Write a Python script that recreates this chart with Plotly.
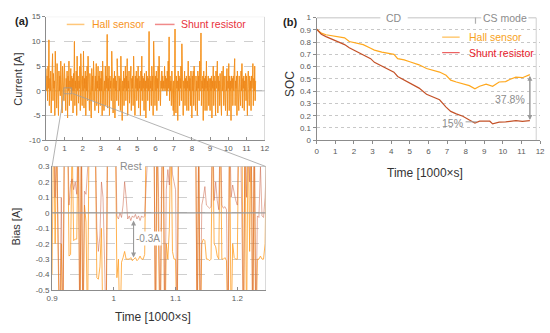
import plotly.graph_objects as go

W, H = 550, 333
def px(v): return v / W
def py(v): return 1 - v / H

FONT = "Arial, Liberation Sans, sans-serif"
TICK_COL = "#595959"
AX_COL = "#8c8c8c"
GRID_COL = "#cfcfcf"

# ---------------- data ----------------
# (a) top: current trace, one sample per 0.025 ks
current = [
    4.5, 0, 3, -2, 5, 0.5, 10.3, -3, 2.5, 0, 4, -4.5, 3, 0, 7.5, -2, 3.5, 0.5, 2, -5,
    8, 0, 3, -3.5, 5.5, 0.5, 2, -5, 4, 0, 3, -1, 6, 0, 2.5, -4.5, 5, 0.5, 3, -2,
    5.5, 0, 3, -4, 2.5, 0.5, 4, -5.5, 3, 0, 6, -3, 2, 0.5, 4.5, -2, 3, 0, 2.5, -4.5,
    3.5, 0, 10, -3, 2, 0.5, 4, -5, 7, 0, 3, -2.5, 2, 0.5, 5, -4, 7.5, 0, 3, -3,
    3, 0, 8, -3.5, 2.5, 0.5, 4, -5, 3, 0, 5, -2, 7, 0.5, 2.5, -4, 3.5, 0, 2, -5.5,
    4.5, 0, 3, -2, 6, 0.5, 2.5, -4, 3, 0, 5.5, -3, 2, 0.5, 5, -4.5, 3, 0, 4, -3,
    2.5, 0, 4, -5, 6, 0.5, 3, -4, 2, 0, 5, -3, 3, 0.5, 11.4, -3.5, 2.5, 0, 5, -5,
    3, 0.5, 2, -2, 8, 0, 3, -4.5, 2.5, 0.5, 4, -5.5, 3, 0, 2, -2, 6.5, 0.5, 3, -3,
    3, 0, 2.5, -4, 7, 0.5, 3, -6, 2, 0, 4, -3, 2.5, 0.5, 5, -2, 3, 0, 6.5, -5,
    2, 0.5, 4, -2.5, 3, 0, 5, -4, 2.5, 0.5, 3, -3, 7, 0, 2, -5, 3, 0.5, 4, -2,
    2.5, 0, 5, -3.5, 3, 0.5, 2, -5, 4, 0, 7, -2, 3, 0.5, 2.5, -4, 3.5, 0, 2, -5.5,
    4, 0.5, 3, -2, 2.5, 0, 12, -4, 3, 0.5, 2, -3, 5, 0, 3, -5, 10, 0.5, 2.5, -3,
    3, 0, 4, -4, 2.5, 0.5, 5, -2, 7, 0, 3, -3, 2, 0.5, 4, 0, 3, 0.5, 2, 0,
    5, 0.5, 3, 0, 2.5, -1, 4, 0, 6, 0.5, 10.9, -2, 3, 0, 2, -3, 4, 0.5, 2.5, -4,
    2, -5, 3, 12.5, 0, -4.5, 3, 0.5, 2, -6, 4, 0, 3, -3, 2.5, 0.5, 5, -2, 9.5, 0,
    3, -5, 2, 0.5, 4, -3, 2.5, 0, 3, -4, 2, 0.5, 6, -4, 3, 0, 2.5, -3, 4, 0,
    -5.5, 3, 0, 4, -3, 5, 0.5, 2.5, -4, 3, 0, 2, -5, 4, 0.5, 3, -2, 6, 0, 2.5,
    11.7, -3, 2, 0.5, 3, -6, 4, 0, 2.5, -4, 3, 0.5, 6, -4, 2, 0, 3, -3, 2.5, 0.5,
    -4, 2.5, 0, 3, -5.5, 2, 0.5, 5, -3, 3, 0, 2, -5, 4, 0.5, 2.5, 6, -4.5, 3, 0,
    2, -3, 3.5, 0.5, 2, -5, 4, 0, 2.5, 5, -3, 3, 0.5, 2, -4, 3, 0, 4.5, -5, 2,
    0.5, 5.5, -4, 3, 0, 2, -6, 3, 0.5, 2.5, -3, 3, 0, 4, 6.5, -3, 2, 0.5, 3, -5,
    4, 0, 2.5, -4, 3, 0.5, 2, -3, 4, 0, 5.5, -3.5, 2.5, 0.5, 3, -4, 2, 0, 3.5, -2,
    3, 0, -5, 2.5, 4, 0.5, -3, 3, 0, 2, -4, 3, 0.5, 2, 5.5, -3, 2.5, 0, 5, -2,
    2,
]
current_time = [round(i * 0.025, 4) for i in range(len(current))]

# (a) bottom: zoomed window 0.9-1.25 ks, one sample per 0.0025 ks
zoom_shunt = [
    0.5, 0.6, 0.1, 0.5, -0.2, -0.8, 0.1, -0.8, 0.5, 0.5,
    0.6, 0.05, 0.18, 0.22, 0.15, 0.2, 0.12, 0.6, -0.8, 0.5,
    -0.8, 0.14, 0.12, 0.6, 0.6, 0.6, 0.6, 0.6, 0.5, -0.1,
    -0.25, -0.15, 0.2, 0.1, -0.3, -0.8, 0.6, 0.6, 0.6, 0.6,
    0.6, 0.6, -0.02, -0.04, 0.0, -0.03, 0.05, 0.2, 0.1, -0.04,
    -0.02, -0.05, -0.02, -0.03, -0.01, -0.04, -0.02, -0.05, -0.02, -0.03,
    -0.02, 0.6, 0.6, 0.6, 0.6, 0.6, 0.6, -0.8, 0.6, 0.1,
    -0.8, 0.28, 0.6, -0.8, 0.15, 0.28, 0.18, 0.6, 0.25, 0.2,
    0.15, -0.8, 0.6, 0.6, 0.6, 0.6, 0.6, 0.6, 0.6, 0.6,
    0.6, 0.6, 0.6, 0.6, -0.8, 0.5, -0.8, 0.05, 0.1, 0.17,
    0.05, 0.04, 0.03, 0.04, 0.6, 0.08, 0.2, 0.08, 0.02, 0.6,
    0.05, 0.03, 0.04, 0.02, -0.8, 0.6, 0.1, 0.18, 0.12, 0.08,
    0.05, 0.6, 0.6, -0.2, -0.8, 0.6, 0.1, 0.6, 0.2, 0.6,
    -0.8, 0.6, -0.8, -0.02, -0.03, 0.3, -0.02, -0.03, 0.1, 0.5,
    0.6,
]
zoom_hall = [
    -0.4, 0.6, -0.2, 0.5, -0.3, -0.9, -0.2, -0.9, 0.6, 0.5,
    0.6, -0.28, -0.27, 0.5, -0.18, -0.17, -0.17, 0.6, -0.9, 0.5,
    -0.9, 0.05, -0.06, -0.8, 0.6, 0.6, 0.6, 0.6, 0.5, -0.42,
    -0.43, -0.35, -0.1, -0.8, -0.6, -0.9, 0.6, 0.6, 0.6, 0.6,
    0.6, 0.6, -0.42, -0.3, -0.8, -0.32, -0.29, -0.25, -0.3, -0.3,
    -0.3, -0.29, -0.31, -0.3, -0.29, -0.31, -0.3, -0.28, -0.3, -0.3,
    -0.27, 0.6, 0.6, 0.6, 0.6, 0.6, 0.6, -0.9, 0.6, -0.2,
    -0.9, 0.1, 0.6, -0.9, -0.2, -0.3, -0.1, 0.6, -0.25, -0.3,
    -0.3, -0.9, 0.6, 0.6, 0.6, 0.6, 0.6, 0.6, 0.6, 0.6,
    0.6, 0.6, 0.6, 0.6, -0.9, 0.5, -0.9, -0.2, -0.17, -0.18,
    -0.3, -0.3, -0.31, -0.3, 0.6, -0.2, -0.22, -0.28, -0.3, 0.6,
    -0.3, -0.3, -0.29, -0.31, -0.9, 0.6, -0.8, -0.2, -0.29, -0.3,
    -0.3, 0.6, 0.6, 0.6, -0.9, 0.6, -0.8, 0.6, -0.25, 0.6,
    -0.9, 0.6, -0.9, -0.3, -0.3, -0.28, -0.3, -0.3, -0.2, 0.5,
    0.6,
]
zoom_time = [round(0.9 + i * 0.0025, 4) for i in range(len(zoom_shunt))]

# (b) SOC
soc_time = [0, 0.25, 0.5, 1.0, 1.5, 1.75, 2.0, 2.5, 2.9, 3.1, 3.5, 3.8, 4.15, 4.35, 4.7,
            5.0, 5.5, 5.9, 6.25, 6.6, 6.95, 7.2, 7.5, 7.85, 8.2, 8.5, 8.75, 9.1, 9.3, 9.45,
            9.8, 10.15, 10.4, 10.7, 11.05, 11.45]
soc_hall = [0.905, 0.873, 0.86, 0.845, 0.835, 0.805, 0.795, 0.78, 0.75, 0.735, 0.718, 0.71,
            0.70, 0.665, 0.655, 0.64, 0.615, 0.585, 0.57, 0.556, 0.53, 0.49, 0.475, 0.46,
            0.445, 0.42, 0.44, 0.458, 0.45, 0.44, 0.475, 0.478, 0.497, 0.515, 0.51, 0.535]
soc_shunt = [0.905, 0.865, 0.845, 0.81, 0.78, 0.755, 0.735, 0.70, 0.665, 0.635, 0.605, 0.58,
             0.555, 0.52, 0.49, 0.465, 0.425, 0.375, 0.355, 0.33, 0.27, 0.235, 0.215, 0.195,
             0.165, 0.14, 0.155, 0.155, 0.155, 0.133, 0.147, 0.15, 0.155, 0.16, 0.153, 0.16]

cur_ticks = [-10, -5, 0, 5, 10, 15]
bias_ticks = [-0.5, -0.4, -0.3, -0.2, -0.1, 0, 0.1, 0.2, 0.3]
bias_xticks = [0.9, 1.0, 1.1, 1.2]
soc_ticks = [0, 0.1, 0.2, 0.3, 0.4, 0.5, 0.6, 0.7, 0.8, 0.9, 1.0]
time_ticks = list(range(0, 13))

def fmt(v):
    return "%g" % v

HALL_A = "rgb(255,172,55)"
SHUNT_A = "rgba(225,110,10,0.55)"
HALL_B = "rgb(255,168,30)"
SHUNT_B = "rgb(196,82,40)"

fig = go.Figure()
fig.add_trace(go.Scatter(x=current_time, y=current, mode="lines", line=dict(color=HALL_A, width=1),
                         xaxis="x", yaxis="y", showlegend=False, hoverinfo="skip"))
fig.add_trace(go.Scatter(x=current_time, y=current, mode="lines", line=dict(color=SHUNT_A, width=0.5),
                         xaxis="x", yaxis="y", showlegend=False, hoverinfo="skip"))
fig.add_trace(go.Scatter(x=zoom_time, y=zoom_hall, mode="lines", line=dict(color="rgba(255,160,40,0.9)", width=0.9),
                         xaxis="x2", yaxis="y2", showlegend=False, hoverinfo="skip"))
fig.add_trace(go.Scatter(x=zoom_time, y=zoom_shunt, mode="lines", line=dict(color="rgba(200,90,60,0.55)", width=0.9),
                         xaxis="x2", yaxis="y2", showlegend=False, hoverinfo="skip"))
fig.add_trace(go.Scatter(x=soc_time, y=soc_hall, mode="lines", line=dict(color=HALL_B, width=1.2),
                         xaxis="x3", yaxis="y3", showlegend=False, hoverinfo="skip"))
fig.add_trace(go.Scatter(x=soc_time, y=soc_shunt, mode="lines", line=dict(color=SHUNT_B, width=1.2),
                         xaxis="x3", yaxis="y3", showlegend=False, hoverinfo="skip"))

tickfont = dict(family=FONT, size=8, color=TICK_COL)
common = dict(showline=True, linecolor=AX_COL, linewidth=1, tickfont=tickfont, tickcolor=AX_COL,
              ticklen=3, zeroline=False)

fig.update_layout(
    width=W, height=H, margin=dict(l=0, r=0, t=0, b=0),
    paper_bgcolor="white", plot_bgcolor="white", showlegend=False,
    font=dict(family=FONT),
    xaxis=dict(domain=[px(41), px(264)], range=[0, 12], tickvals=time_ticks,
               ticktext=[str(v) for v in time_ticks], ticks="inside", showgrid=False,
               anchor="y", **common),
    yaxis=dict(domain=[py(140), py(13)], range=[-10, 15], tickvals=cur_ticks,
               ticktext=[str(v) for v in cur_ticks], ticks="outside", showgrid=True,
               gridcolor=GRID_COL, griddash="dash", gridwidth=0.8, anchor="x", **common),
    xaxis2=dict(domain=[px(47), px(265)], range=[0.9, 1.246], tickvals=bias_xticks,
                ticktext=["0.9", "1", "1.1", "1.2"], ticks="inside", showgrid=False,
                anchor="y2", **common),
    yaxis2=dict(domain=[py(294), py(167)], range=[-0.5, 0.3], tickvals=bias_ticks,
                ticktext=[fmt(v) for v in bias_ticks], ticks="", showgrid=True,
                gridcolor=GRID_COL, griddash="dash", gridwidth=0.8, anchor="x2", **common),
    xaxis3=dict(domain=[px(317), px(545)], range=[0, 12], tickvals=time_ticks,
                ticktext=[str(v) for v in time_ticks], ticks="outside", showgrid=False,
                anchor="y3", **common),
    yaxis3=dict(domain=[py(140), py(14)], range=[0, 1], tickvals=soc_ticks,
                ticktext=[fmt(v) for v in soc_ticks], ticks="outside", showgrid=True,
                gridcolor="#c8c8c8", griddash="dot", gridwidth=0.8, anchor="x3", **common),
)

shapes = []
light = "#bdbdbd"
shapes.append(dict(type="line", xref="x", yref="y", x0=12, x1=12, y0=-10, y1=15, line=dict(color=light, width=1)))
shapes.append(dict(type="line", xref="x", yref="y", x0=0, x1=12, y0=15, y1=15, line=dict(color="#e0e0e0", width=1)))
shapes.append(dict(type="line", xref="x", yref="y", x0=0, x1=12, y0=0, y1=0, line=dict(color="#a0a0a0", width=1), layer="below"))
shapes.append(dict(type="line", xref="x2", yref="y2", x0=1.246, x1=1.246, y0=-0.5, y1=0.3, line=dict(color=light, width=1)))
shapes.append(dict(type="line", xref="x2", yref="y2", x0=0.9, x1=1.246, y0=0, y1=0, line=dict(color="#9a9a9a", width=1.2)))
shapes.append(dict(type="line", xref="x2", yref="y2", x0=0.9, x1=1.005, y0=0.3, y1=0.3, line=dict(color="#a0a0a0", width=1.2)))
shapes.append(dict(type="line", xref="x2", yref="y2", x0=1.051, x1=1.246, y0=0.3, y1=0.3, line=dict(color="#a0a0a0", width=1.2)))
shapes.append(dict(type="rect", xref="x", yref="y", x0=0.97, x1=1.40, y0=-0.6, y1=0.6, line=dict(color="#9a9a9a", width=0.8)))
shapes.append(dict(type="line", xref="paper", yref="paper", x0=px(59), y0=py(93), x1=px(47), y1=py(167), line=dict(color="#a0a0a0", width=0.8)))
shapes.append(dict(type="line", xref="paper", yref="paper", x0=px(68), y0=py(92), x1=px(265), y1=py(167), line=dict(color="#a0a0a0", width=0.8)))
for a, b in [(0, 3.42), (4.89, 8.84), (11.37, 11.79)]:
    shapes.append(dict(type="line", xref="x3", yref="y3", x0=a, x1=b, y0=1, y1=1, line=dict(color="#b0b0b0", width=1.5)))
shapes.append(dict(type="line", xref="x3", yref="y3", x0=8.53, x1=8.53, y0=0.95, y1=1.06, line=dict(color="#b0b0b0", width=1.2)))
shapes.append(dict(type="line", xref="x3", yref="y3", x0=11.79, x1=11.79, y0=0, y1=1, line=dict(color="#d0d0d0", width=1)))
shapes.append(dict(type="line", xref="x3", yref="y3", x0=8.0, x1=8.6, y0=0.15, y1=0.15, line=dict(color="#a0a0a0", width=1)))
shapes.append(dict(type="line", xref="paper", yref="paper", x0=px(62), x1=px(80), y0=py(21), y1=py(21), line=dict(color="#FFC77A", width=1.5)))
shapes.append(dict(type="line", xref="paper", yref="paper", x0=px(152), x1=px(172), y0=py(21), y1=py(21), line=dict(color="#F08A8A", width=1.5)))
shapes.append(dict(type="line", xref="x3", yref="y3", x0=6.74, x1=7.68, y0=0.841, y1=0.841, line=dict(color="#FFB030", width=1)))
shapes.append(dict(type="line", xref="x3", yref="y3", x0=6.74, x1=7.68, y0=0.714, y1=0.714, line=dict(color="#E84040", width=1)))
fig.update_layout(shapes=shapes)

ann = []
def text(x, y, s, size, color, xref="paper", yref="paper", xanchor="center", angle=0, bold=False, bg=None):
    d = dict(x=x, y=y, xref=xref, yref=yref, text=("<b>%s</b>" % s if bold else s), showarrow=False,
             font=dict(family=FONT, size=size, color=color), xanchor=xanchor, yanchor="middle", textangle=angle)
    if bg:
        d["bgcolor"] = bg
    ann.append(d)

text(px(16), py(17), "(a)", 11, "#222", bold=True)
text(px(290), py(18), "(b)", 11, "#222", bold=True)
text(px(12), py(77), "Current [A]", 11, "#333", angle=-90)
text(px(10), py(229), "Bias [A]", 11, "#333", angle=-90)
text(px(150), py(322), "Time [1000×s]", 12, "#333")
text(px(290), py(82), "SOC", 12, "#333", angle=-90)
text(px(428), py(174), "Time [1000×s]", 12, "#333")
text(px(86), py(21), "Hall sensor", 10.5, "#F7941D", xanchor="left")
text(px(177), py(21), "Shunt resistor", 10.5, "#E8323C", xanchor="left")
text(8.05, 0.841, "Hall sensor", 10.5, "#F7A21B", xref="x3", yref="y3", xanchor="left")
text(8.05, 0.714, "Shunt resistor", 10.5, "#E8202A", xref="x3", yref="y3", xanchor="left")
text(4.15, 1.0, "CD", 10.5, "#8c8c8c", xref="x3", yref="y3")
text(10.1, 1.0, "CS mode", 10.5, "#8c8c8c", xref="x3", yref="y3")
text(10.37, 0.336, "37.8%", 10.5, "#8c8c8c", xref="x3", yref="y3")
text(7.3, 0.137, "15%", 10.5, "#8c8c8c", xref="x3", yref="y3")
text(1.028, 0.3, "Rest", 10.5, "#8c8c8c", xref="x2", yref="y2")
text(1.056, -0.165, "-0.3A", 10, "#8c8c8c", xref="x2", yref="y2", bg="white")

def darrow(x, y0, y1, xr, yr):
    for a, b in [(y0, y1), (y1, y0)]:
        ann.append(dict(x=x, y=b, ax=x, ay=a, xref=xr, yref=yr, axref=xr, ayref=yr, showarrow=True,
                        arrowhead=2, arrowsize=1, arrowwidth=1, arrowcolor="#9a9a9a", text=""))

darrow(11.45, 0.525, 0.165, "x3", "y3")
darrow(1.032, -0.05, -0.29, "x2", "y2")
fig.update_layout(annotations=ann)

fig.write_html("out.html", config={"displayModeBar": False},
               post_script="document.body.style.margin='0px';document.body.style.padding='0px';")
